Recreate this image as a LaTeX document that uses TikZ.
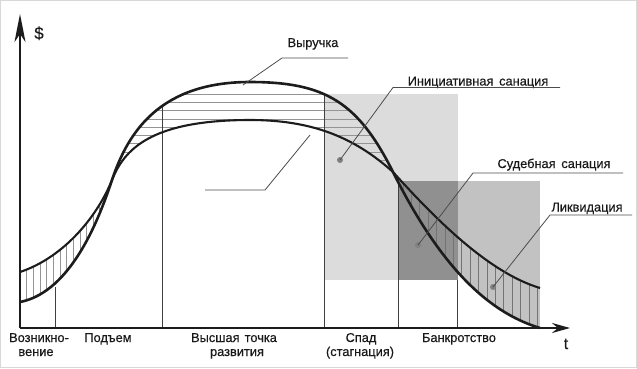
\documentclass[tikz,border=0pt]{standalone}
\usepackage{fontspec}
\setmainfont{Liberation Sans}[FakeBold=0.4]
\usetikzlibrary{arrows.meta}
\definecolor{boxlight}{HTML}{DCDCDC}
\definecolor{boxmid}{HTML}{C2C2C2}
\definecolor{boxdark}{HTML}{909090}
\definecolor{framec}{HTML}{D8D8D8}
\definecolor{ink}{HTML}{1C1C1C}
\tikzset{
  curveR/.style={line width=2.6pt, draw=ink, line join=round},
  curveC/.style={line width=2.1pt, draw=ink, line join=round},
  hatch/.style={draw=black!42, line width=0.7pt},
  hatchdk/.style={draw=black!55, line width=0.7pt},
  thinv/.style={draw=black!75, line width=0.8pt},
  axisline/.style={line width=2.4pt, draw=ink},
  leader/.style={draw=black!70, line width=0.8pt},
  dot/.style={circle, fill=black!50, inner sep=0pt, minimum size=6pt},
  lbl/.style={font=\fontsize{12.8}{14}\selectfont, inner sep=0pt, anchor=base, text=black!90},
  axlbl/.style={font=\fontsize{17}{18}\selectfont, inner sep=0pt, anchor=base, text=ink},
}
\begin{document}
\begin{tikzpicture}[x=1pt,y=-1pt]
\useasboundingbox (0,0) rectangle (637,368);
\draw[framec, line width=1pt] (0.5,0.5) rectangle (636.5,367.5);

% revenue curve (R), left to right
\def\Rpath{(20,302) .. controls (72,292) and (100,216) .. (112,180)
  .. controls (128,132) and (160,82) .. (250,82)
  .. controls (325,82) and (358,102) .. (393,172)
  .. controls (438,262) and (485,311.5) .. (540,328)}

% boxes
\fill[boxlight] (324,94) rectangle (458,280);
\begin{scope}
  \clip \Rpath -- (540,0) -- (20,0) -- cycle;
  \fill[boxmid] (398,181) rectangle (540,330);
\end{scope}
\fill[boxdark] (398,181) rectangle (458,280);

% hatching between the curves
\begin{scope}
  \clip \Rpath -- (540,288) .. controls (490,273) and (438,222) .. (393,172)
     .. controls (353,136) and (310,120) .. (250,120)
     .. controls (150,120) and (124,150) .. (112,180)
     .. controls (98,215) and (65,257) .. (20,272) -- cycle;
  \foreach \i in {1,...,14} {\draw[hatch] (20+6.65*\i,150) -- (20+6.65*\i,320);}
  \foreach \i in {0,...,9} {\draw[hatch] (114,94+8.3*\i) -- (391,94+8.3*\i);}
  \foreach \i in {0,...,16} {\draw[hatchdk] (403+8.4*\i,160) -- (403+8.4*\i,335);}
\end{scope}

% axes coordinates
\coordinate (O) at (20,328);
\coordinate (ytip) at (20,14);
\coordinate (xtip) at (570,328);

% thin vertical stage lines
\foreach \xx/\yy in {55/287, 162/105, 324/94, 398/178, 457/280} {
  \draw[thinv] (\xx,\yy) -- (\xx,328);
}

% curves
\draw[curveC] (20,272) .. controls (65,257) and (98,215) .. (112,180)
  .. controls (124,150) and (150,120) .. (250,120)
  .. controls (310,120) and (353,136) .. (393,172)
  .. controls (438,222) and (490,273) .. (540,288);
\draw[curveR] \Rpath;

% axes
\draw[axisline, -{Stealth[length=28pt,width=11pt,inset=8pt]}] (O) -- (ytip);
\draw[axisline, -{Stealth[length=18pt,width=10pt,inset=6pt]}] (O) -- (xtip);
\node[axlbl] (dollar) at (39,39) {\$};
\node[axlbl, font=\fontsize{16}{18}\selectfont] (tlab) at (566,349) {t};

% labels with leaders
\node[lbl] (vyr) at (313,47) {Выручка};
\coordinate (vyrA) at (243,85);
\coordinate (vyrB) at (282,58);
\coordinate (vyrC) at (348,58);
\draw[leader] (vyrA) -- (vyrB) -- (vyrC);

\coordinate (blA) at (205,190);
\coordinate (blB) at (265,190);
\coordinate (blC) at (310,135);
\draw[leader] (blA) -- (blB) -- (blC);

\node[lbl] (init) at (478,85.5) {Инициативная\hspace{0.45em}санация};
\node[dot] (d1) at (340,160) {};
\coordinate (initB) at (393,87.5);
\coordinate (initC) at (560,87.5);
\draw[leader] (d1.center) -- (initB) -- (initC);

\node[lbl] (sud) at (554,168) {Судебная\hspace{0.45em}санация};
\node[dot] (d2) at (418,245) {};
\coordinate (sudB) at (473,173);
\coordinate (sudC) at (623,173);
\draw[leader] (d2.center) -- (sudB) -- (sudC);

\node[lbl] (likv) at (587,211.5) {Ликвидация};
\node[dot] (d3) at (493,287) {};
\coordinate (likvB) at (550,215);
\coordinate (likvC) at (632,215);
\draw[leader] (d3.center) -- (likvB) -- (likvC);

% stage labels
\node[lbl] (st1a) at (39,342) {Возникно-};
\node[lbl] (st1b) at (36,356) {вение};
\node[lbl] (st2) at (108,342) {Подъем};
\node[lbl] (st3a) at (234,342) {Высшая\hspace{0.4em}точка};
\node[lbl] (st3b) at (237,356) {развития};
\node[lbl] (st4a) at (361,342) {Спад};
\node[lbl] (st4b) at (360,356) {(стагнация)};
\node[lbl] (st5) at (459,342) {Банкротство};
\end{tikzpicture}
\end{document}
